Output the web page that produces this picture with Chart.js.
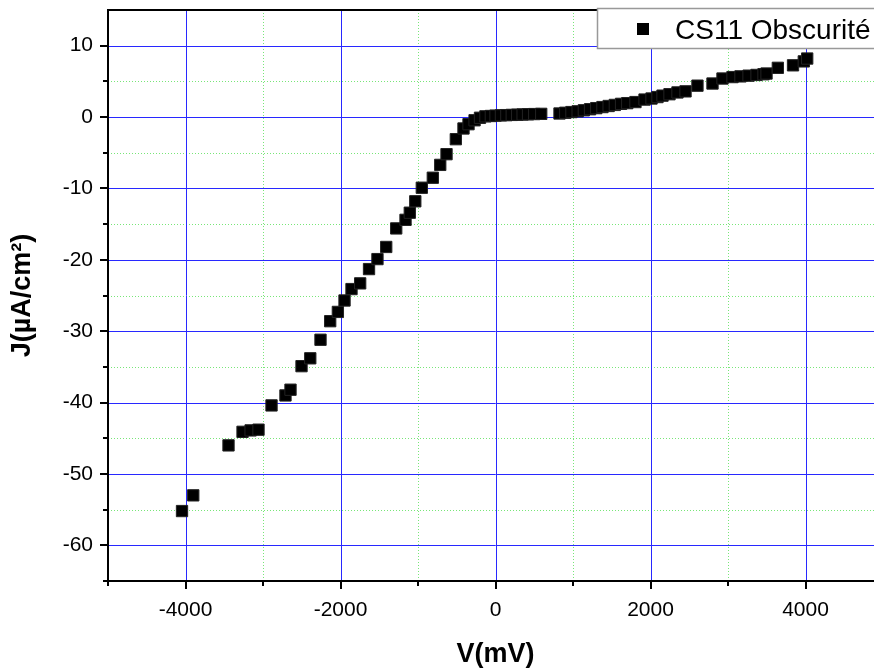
<!DOCTYPE html>
<html>
<head>
<meta charset="utf-8">
<title>CS11 Obscurité</title>
<script src="https://cdn.jsdelivr.net/npm/chart.js@4.4.0/dist/chart.umd.min.js"></script>
<style>
  html, body { margin: 0; padding: 0; background: #fff; overflow: hidden; width: 874px; height: 668px; }
  #wrap { position: relative; width: 892px; height: 668px; }
</style>
</head>
<body>
<div id="wrap"><canvas id="chart" width="892" height="668"></canvas></div>
<script>
// J–V characteristic measured in the dark (CS11)
const voltage = [
  -4045, -3900, -3445, -3264, -3160, -3058, -2890, -2710, -2645, -2503,
  -2390, -2258, -2133, -2034, -1948, -1858, -1746, -1632, -1523, -1410,
  -1281, -1161, -1106, -1035, -951, -809, -713, -632, -512, -413,
  -348, -270, -200, -130, -60, 0, 70, 140, 210, 280,
  350, 420, 500, 590,
  826, 900, 980, 1060, 1140, 1220, 1300, 1380, 1460, 1540,
  1620, 1700, 1806, 1923, 2013, 2090, 2155, 2245, 2348, 2452,
  2606, 2800, 2929, 3058, 3161, 3265, 3368, 3458, 3497, 3643,
  3839, 3978, 4022
];
const currentDensity = [
  -55.2, -53.0, -46.0, -44.1, -43.9, -43.8, -40.4, -39.0, -38.2, -34.9,
  -33.8, -31.2, -28.6, -27.3, -25.7, -24.1, -23.3, -21.3, -19.9, -18.2,
  -15.6, -14.4, -13.4, -11.8, -9.9, -8.5, -6.7, -5.2, -3.1, -1.6,
  -1.0, -0.45, -0.1, 0.1, 0.15, 0.2, 0.24, 0.27, 0.3, 0.33,
  0.36, 0.39, 0.42, 0.45,
  0.5, 0.6, 0.7, 0.8, 0.95, 1.1, 1.25, 1.4, 1.55, 1.7,
  1.85, 1.95, 2.1, 2.45, 2.6, 2.8, 3.0, 3.2, 3.45, 3.6,
  4.4, 4.7, 5.4, 5.6, 5.7, 5.8, 5.9, 6.0, 6.1, 6.9,
  7.25, 7.8, 8.2
];
const seriesName = 'CS11 Obscurité';

const xMajorTicks = [-4000, -2000, 0, 2000, 4000];
const xMinorTicks = [-5000, -3000, -1000, 1000, 3000];
const yMajorTicks = [-60, -50, -40, -30, -20, -10, 0, 10];
const yMinorTicks = [-65, -55, -45, -35, -25, -15, -5, 5];

const FONT = "'Liberation Sans', Arial, sans-serif";
const BLUE = 'rgb(40,40,255)';
const GREEN = 'rgb(120,230,120)';

// Grid, axis frame and tick marks, placed through the chart's scales
const framePlugin = {
  id: 'frame',
  beforeDatasetsDraw(chart) {
    const { ctx, chartArea: a, scales: { x, y } } = chart;
    ctx.save();
    // minor dotted grid
    ctx.strokeStyle = GREEN;
    ctx.lineWidth = 1;
    ctx.setLineDash([1, 2]);
    xMinorTicks.forEach(v => {
      const px = Math.round(x.getPixelForValue(v)) + 0.5;
      if (px <= a.left + 1) return;
      ctx.beginPath(); ctx.moveTo(px, a.top); ctx.lineTo(px, a.bottom); ctx.stroke();
    });
    yMinorTicks.forEach(v => {
      const py = Math.round(y.getPixelForValue(v)) + 0.5;
      if (py >= a.bottom - 1) return;
      ctx.beginPath(); ctx.moveTo(a.left, py); ctx.lineTo(a.right, py); ctx.stroke();
    });
    // major grid
    ctx.setLineDash([]);
    ctx.strokeStyle = BLUE;
    xMajorTicks.forEach(v => {
      const px = Math.round(x.getPixelForValue(v)) + 0.5;
      ctx.beginPath(); ctx.moveTo(px, a.top); ctx.lineTo(px, a.bottom); ctx.stroke();
    });
    yMajorTicks.forEach(v => {
      const py = Math.round(y.getPixelForValue(v)) + 0.5;
      ctx.beginPath(); ctx.moveTo(a.left, py); ctx.lineTo(a.right, py); ctx.stroke();
    });
    ctx.restore();
  },
  afterDatasetsDraw(chart) {
    const { ctx, chartArea: a, scales: { x, y } } = chart;
    ctx.save();
    ctx.strokeStyle = '#000';
    ctx.lineWidth = 2;
    // frame: left, bottom, top
    ctx.beginPath();
    ctx.moveTo(a.left, a.top); ctx.lineTo(a.left, a.bottom + 1);
    ctx.moveTo(a.left - 1, a.bottom); ctx.lineTo(a.right, a.bottom);
    ctx.moveTo(a.left - 1, a.top); ctx.lineTo(a.right, a.top);
    ctx.stroke();
    // tick marks
    ctx.beginPath();
    xMajorTicks.forEach(v => {
      const px = Math.round(x.getPixelForValue(v));
      ctx.moveTo(px, a.bottom); ctx.lineTo(px, a.bottom + 8);
    });
    xMinorTicks.forEach(v => {
      const px = Math.round(x.getPixelForValue(v));
      ctx.moveTo(px, a.bottom); ctx.lineTo(px, a.bottom + 5);
    });
    yMajorTicks.forEach(v => {
      const py = Math.round(y.getPixelForValue(v));
      ctx.moveTo(a.left, py); ctx.lineTo(a.left - 8, py);
    });
    yMinorTicks.forEach(v => {
      const py = Math.round(y.getPixelForValue(v));
      ctx.moveTo(a.left, py); ctx.lineTo(a.left - 5, py);
    });
    ctx.stroke();
    ctx.restore();
  },
  afterDraw(chart) {
    // legend box in the upper right corner
    const { ctx } = chart;
    ctx.save();
    ctx.fillStyle = '#fff';
    ctx.fillRect(597, 8, 290, 40);
    ctx.strokeStyle = '#999';
    ctx.lineWidth = 1.5;
    ctx.strokeRect(597.5, 8.5, 290, 40);
    ctx.fillStyle = '#000';
    ctx.fillRect(637, 23, 12, 12);
    ctx.font = '28px ' + FONT;
    ctx.textBaseline = 'alphabetic';
    ctx.textAlign = 'left';
    ctx.fillText(seriesName, 675, 39);
    ctx.restore();
  }
};

new Chart(document.getElementById('chart'), {
  type: 'scatter',
  data: {
    datasets: [{
      label: seriesName,
      data: voltage.map((v, i) => ({ x: v, y: currentDensity[i] })),
      pointStyle: 'rect',
      pointRadius: 8,
      pointBorderWidth: 1,
      pointBackgroundColor: '#000',
      pointBorderColor: '#222',
      showLine: false
    }]
  },
  options: {
    responsive: false,
    animation: false,
    layout: { padding: { top: 10, right: 0, bottom: 0, left: 0 } },
    plugins: { legend: { display: false }, tooltip: { enabled: false } },
    scales: {
      x: {
        type: 'linear',
        min: -5000,
        max: 5000,
        afterBuildTicks: s => { s.ticks = xMajorTicks.map(v => ({ value: v })); },
        afterFit: s => { s.height = 87; s.paddingLeft = 0; s.paddingRight = 0; },
        grid: { display: false, drawTicks: false },
        border: { display: false },
        ticks: {
          color: '#000',
          font: { family: FONT, size: 21 },
          padding: 17,
          maxRotation: 0,
          autoSkip: false,
          callback: v => String(v)
        },
        title: {
          display: true,
          text: 'V(mV)',
          color: '#000',
          font: { family: FONT, size: 27, weight: 'bold', lineHeight: 1 },
          padding: { top: 0, bottom: 0 }
        }
      },
      y: {
        type: 'linear',
        min: -65,
        max: 15,
        afterBuildTicks: s => { s.ticks = yMajorTicks.map(v => ({ value: v })); },
        afterFit: s => { s.width = 108; s.paddingTop = 0; s.paddingBottom = 0; },
        grid: { display: false, drawTicks: false },
        border: { display: false },
        ticks: {
          color: '#000',
          font: { family: FONT, size: 21 },
          padding: 15,
          autoSkip: false,
          callback: v => String(v)
        },
        title: {
          display: true,
          text: 'J(µA/cm²)',
          color: '#000',
          font: { family: FONT, size: 27, weight: 'bold', lineHeight: 1 },
          padding: { top: 9, bottom: 0 }
        }
      }
    }
  },
  plugins: [framePlugin]
});
</script>
</body>
</html>
